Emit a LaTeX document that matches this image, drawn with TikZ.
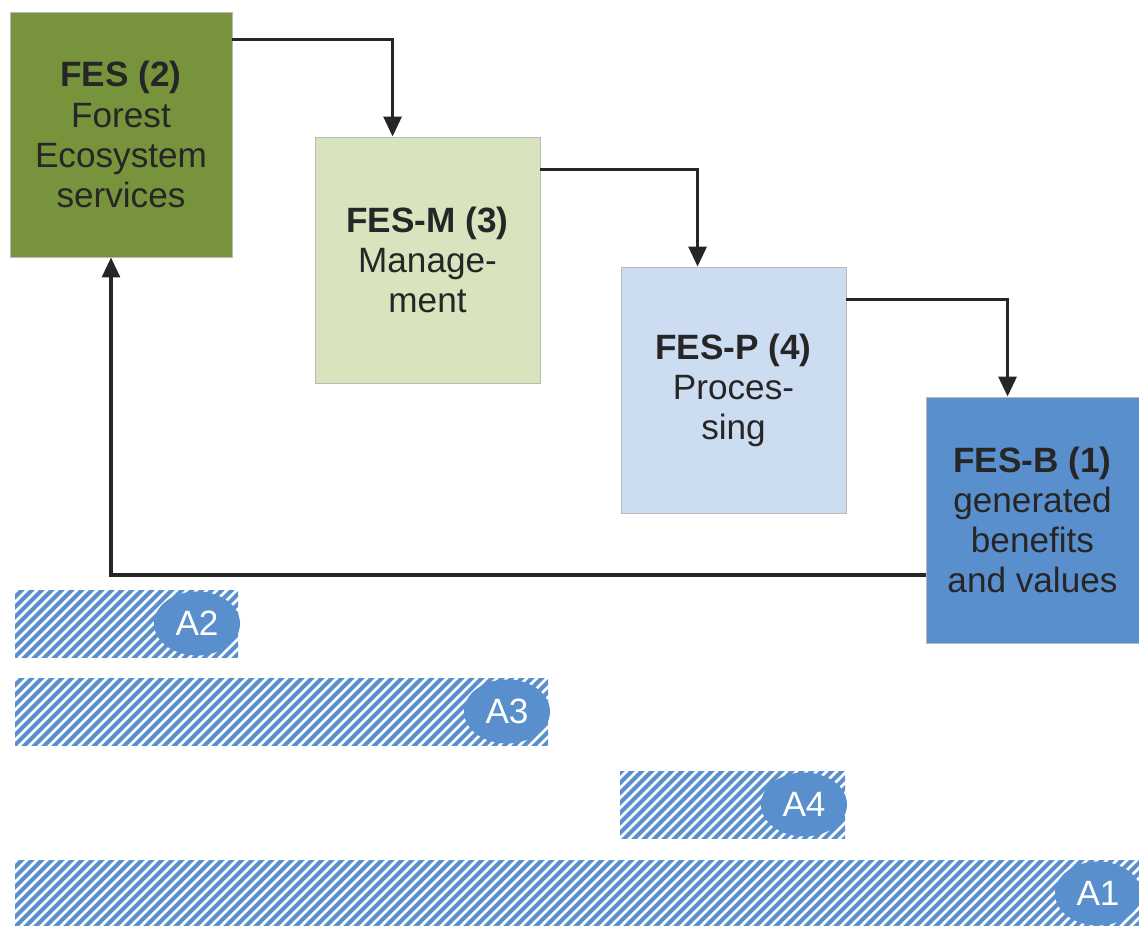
\documentclass[tikz,border=0pt]{standalone}
\usepackage{fontspec}
\setmainfont{Liberation Sans}
\usetikzlibrary{shapes.geometric, arrows.meta}
\definecolor{FesGreen}{HTML}{77933C}
\definecolor{FesLightGreen}{HTML}{D7E4BD}
\definecolor{FesLightBlue}{HTML}{CCDDF2}
\definecolor{FesBlue}{HTML}{5A8FCD}
\definecolor{FesText}{HTML}{262626}

\begin{document}
\begin{tikzpicture}[x=0.025cm, y=-0.025cm,
    fesbox/.style={draw=gray!55, line width=0.6pt, inner sep=0pt, align=center,
        text=FesText, font=\fontsize{25}{28.5}\selectfont},
    flow/.style={line width=2.2pt, black!85, -{Triangle[length=0.5cm, width=0.45cm]}},
    hatch/.style={FesBlue, line width=0.1cm},
    tag/.style={ellipse, fill=FesBlue, text=white, inner sep=0pt,
        minimum width=2.15cm, minimum height=1.6cm, font=\fontsize{25}{28.5}\selectfont}]
    \useasboundingbox (0,0) rectangle (1139,926);

    % boxes
    \node[fesbox, fill=FesGreen, minimum width=5.55cm, minimum height=6.125cm] (fes) at (121,134.5)
        {\textbf{FES (2)}\\Forest\\Ecosystem\\services};
    \node[fesbox, fill=FesLightGreen, minimum width=5.625cm, minimum height=6.15cm] (fesm) at (427.5,260)
        {\textbf{FES-M (3)}\\Manage-\\ment};
    \node[fesbox, fill=FesLightBlue, minimum width=5.625cm, minimum height=6.15cm] (fesp) at (733.5,390)
        {\textbf{FES-P (4)}\\Proces-\\sing};
    \node[fesbox, fill=FesBlue, minimum width=5.325cm, minimum height=6.15cm] (fesb) at (1032.5,520)
        {\textbf{FES-B (1)}\\generated\\benefits\\and values};

    % connectors
    \draw[flow] ([yshift=-0.7cm]fes.north east) -| ([xshift=1.95cm]fesm.north west);
    \draw[flow] ([yshift=-0.825cm]fesm.north east) -| ([xshift=1.925cm]fesp.north west);
    \draw[flow] ([yshift=-0.825cm]fesp.north east) -| ([xshift=2.05cm]fesb.north west);
    \draw[flow] ([yshift=-1.375cm]fesb.west) -| ([xshift=-0.25cm]fes.south);

    % hatched bars
    \foreach \xa/\xb/\ya/\lab in {15/238/590/A2, 15/548/678/A3, 620/845/771/A4, 15/1139/860/A1} {
        \begin{scope}
            \clip (\xa,\ya) rectangle (\xb,\ya+67);
            \foreach \k in {-80,-70,...,1140}
                \draw[hatch] (\k,\ya+72) -- (\k+77,\ya-5);
        \end{scope}
        \node[tag] (\lab) at (\xb-41,\ya+33.5) {\lab};
    }
\end{tikzpicture}
\end{document}
